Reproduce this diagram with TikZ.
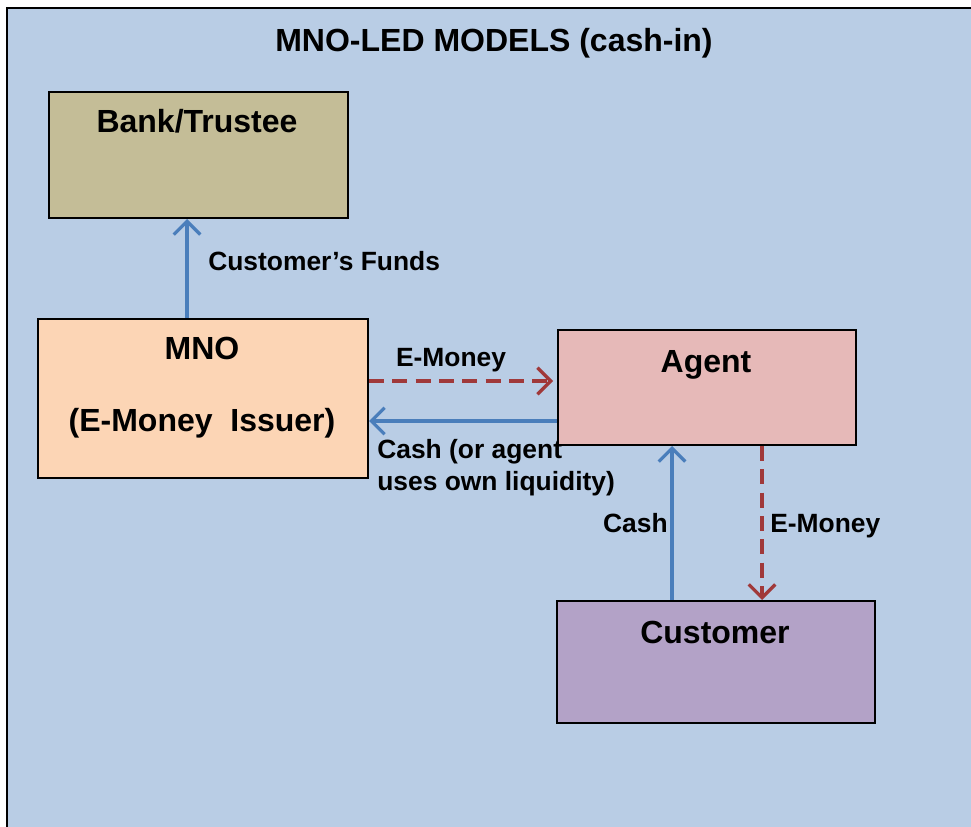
\documentclass[tikz,border=0pt]{standalone}
\usepackage{fontspec}
\setmainfont{Liberation Sans}
\usetikzlibrary{arrows.meta,calc}
\definecolor{panel}{HTML}{B9CDE5}
\definecolor{bankfill}{HTML}{C4BD97}
\definecolor{mnofill}{HTML}{FCD5B5}
\definecolor{agentfill}{HTML}{E6B9B8}
\definecolor{custfill}{HTML}{B3A2C7}
\definecolor{flowblue}{HTML}{4A7EBB}
\definecolor{flowred}{HTML}{A0393A}
\begin{document}
\begin{tikzpicture}[x=0.75pt,y=-0.75pt,
  box/.style={draw=black,line width=1.5pt,inner sep=0pt,anchor=north west},
  bigtxt/.style={font=\fontsize{24}{28}\selectfont\bfseries,inner sep=0pt,text height=17.2pt,text depth=0pt},
  smalltxt/.style={font=\fontsize{19.8}{24}\selectfont\bfseries,inner sep=0pt,text height=14.2pt,text depth=0pt},
  tip/.style={-{Straight Barb[length=10pt,width=20pt,line width=2.4pt]}},
  cashflow/.style={draw=flowblue,line width=2.6pt,tip},
  emoneyflow/.style={draw=flowred,line width=2.6pt,tip,dash pattern=on 11.25pt off 6.25pt}]
  \useasboundingbox (0,0) rectangle (971,827);
  \fill[white] (0,0) rectangle (971,827);
  % panel with its top and left rule
  \fill[panel] (7,8) rectangle (971,827);
  \draw[black,line width=2.2pt] (7,827) -- (7,8) -- (971,8);
  \node[bigtxt] (title) at (494,40) {MNO-LED MODELS (cash-in)};

  % participants
  \node[box,fill=bankfill,minimum width=299*0.75pt,minimum height=126*0.75pt] (bank) at (48,91) {};
  \node[box,fill=mnofill,minimum width=330*0.75pt,minimum height=159*0.75pt] (mno) at (37,318) {};
  \node[box,fill=agentfill,minimum width=298*0.75pt,minimum height=115*0.75pt] (agent) at (557,329) {};
  \node[box,fill=custfill,minimum width=318*0.75pt,minimum height=122*0.75pt] (cust) at (556,600) {};

  \node[bigtxt] (banktxt) at (197,121) {Bank/Trustee};
  \node[bigtxt] (mnotxt) at (202,348) {MNO};
  \node[bigtxt] (issuertxt) at (202,420) {(E-Money\ \ Issuer)};
  \node[bigtxt] (agenttxt) at (706,361) {Agent};
  \node[bigtxt] (custtxt) at (715,632) {Customer};

  % flows
  \coordinate (mnoTop) at ($(mno.north west)+(150,0)$);
  \draw[cashflow] (mnoTop) -- (mnoTop |- bank.south);
  \node[smalltxt,anchor=west] (fundslbl) at (208,261) {Customer’s Funds};

  \coordinate (mnoE) at ($(mno.north east)+(0,63)$);
  \draw[emoneyflow] (mnoE) -- ($(mnoE -| agent.west)+(-4,0)$);
  \node[smalltxt] (em1lbl) at (451,357) {E-Money};

  \coordinate (mnoC) at ($(mno.north east)+(0,103)$);
  \draw[cashflow] (mnoC -| agent.west) -- (mnoC);
  \node[smalltxt,anchor=base west,align=left,text height=,text depth=,font=\fontsize{19.8}{24}\selectfont\bfseries] (cashlbl) at (377,490.5) {Cash (or agent\\uses own liquidity)};

  \coordinate (custC) at ($(cust.north west)+(116,0)$);
  \draw[cashflow] (custC) -- (custC |- agent.south);
  \node[smalltxt,anchor=east] (cash2lbl) at (668,523) {Cash};

  \coordinate (agentE) at ($(agent.south west)+(205,0)$);
  \draw[emoneyflow] (agentE) -- (agentE |- cust.north);
  \node[smalltxt,anchor=west] (em2lbl) at (770,523) {E-Money};
\end{tikzpicture}
\end{document}
